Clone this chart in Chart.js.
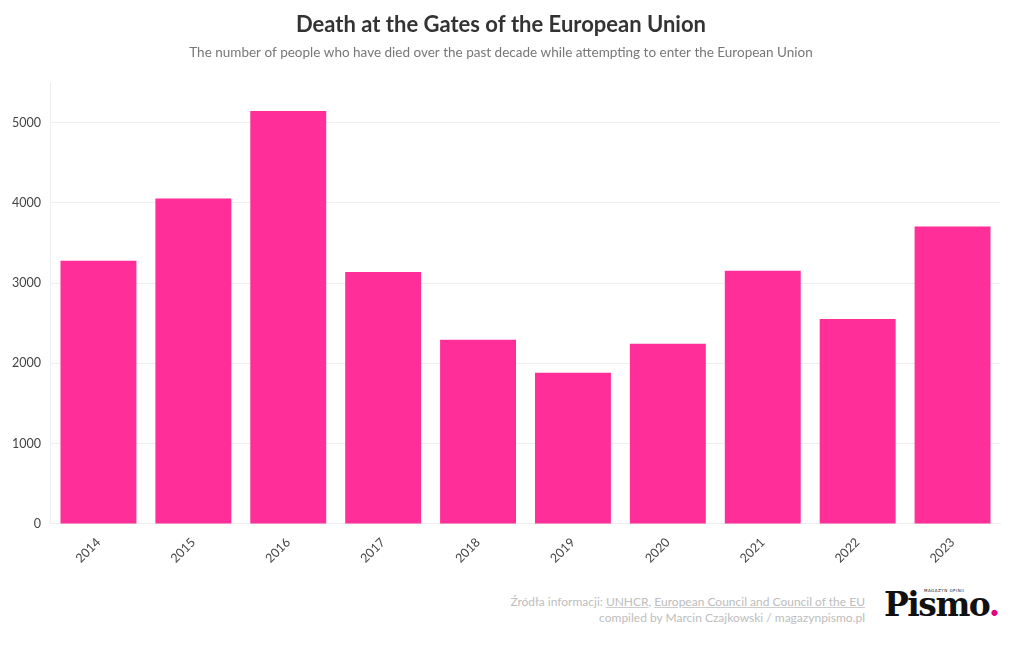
<!DOCTYPE html>
<html>
<head>
<meta charset="utf-8">
<script src="https://cdn.jsdelivr.net/npm/chart.js@4"></script>
<style>
  body { margin: 0; background: #fff; font-family: Lato, sans-serif; }
  #wrap { position: relative; width: 1020px; height: 650px; }
  #box { position: absolute; left: 0; top: 0; width: 1020px; height: 580px; }
  #src { position: absolute; right: 155px; top: 594px; text-align: right; font-size: 12px; line-height: 16px; color: #bdbdbd; }
  #src u { text-decoration-color: #ccc; }
  #logo { position: absolute; left: 884px; top: 585px; font-family: "DejaVu Serif", serif; font-weight: bold; font-size: 33px; color: #111; letter-spacing: -1.5px; }
  #logo .dot { color: #e6007e; }
  #logo small { position: absolute; left: 40px; top: 3px; font-family: "DejaVu Sans", sans-serif; font-size: 4px; font-weight: normal; letter-spacing: 0.5px; white-space: nowrap; }
</style>
</head>
<body>
<div id="wrap">
  <div id="box"><canvas id="deathChart"></canvas></div>
  <div id="src">Źródła informacji: <u>UNHCR</u>, <u>European Council and Council of the EU</u><br>compiled by Marcin Czajkowski / magazynpismo.pl</div>
  <div id="logo"><small>MAGAZYN OPINII</small>Pismo<span class="dot">.</span></div>
</div>
<script>
const years = ["2014", "2015", "2016", "2017", "2018", "2019", "2020", "2021", "2022", "2023"];
const deaths = [3280, 4055, 5145, 3140, 2295, 1885, 2245, 3155, 2555, 3705];
const yTicks = [0, 1000, 2000, 3000, 4000, 5000];

const ctx = document.getElementById("deathChart").getContext("2d");

new Chart(ctx, {
  type: "bar",
  data: {
    labels: years,
    datasets: [{
      label: "Deaths",
      data: deaths,
      backgroundColor: "#ff2e98",
      categoryPercentage: 0.8,
      barPercentage: 1
    }]
  },
  options: {
    responsive: true,
    maintainAspectRatio: false,
    animation: false,
    layout: { padding: { left: 2, right: 20, top: 0, bottom: 11 } },
    plugins: {
      legend: { display: false },
      tooltip: { enabled: false },
      title: {
        display: true,
        text: "Death at the Gates of the European Union",
        color: "#333",
        font: { family: "Lato", size: 22, weight: "bold" },
        padding: { top: 12, bottom: 6 }
      },
      subtitle: {
        display: true,
        text: "The number of people who have died over the past decade while attempting to enter the European Union",
        color: "#777",
        font: { family: "Lato", size: 13.5 },
        padding: { bottom: 22 }
      }
    },
    scales: {
      x: {
        grid: { display: false },
        border: { color: "#eee" },
        ticks: {
          color: "#444",
          font: { family: "Lato", size: 12.5 },
          maxRotation: 45,
          minRotation: 45
        }
      },
      y: {
        min: 0,
        max: 5500,
        afterBuildTicks: function(axis) {
          axis.ticks = yTicks.map(function(v) { return { value: v }; });
        },
        grid: { color: "#eee", drawTicks: false },
        border: { color: "#eee" },
        ticks: {
          color: "#444",
          padding: 10,
          font: { family: "Lato", size: 12.5 },
          callback: function(v) { return String(v); }
        }
      }
    }
  }
});
</script>
</body>
</html>
